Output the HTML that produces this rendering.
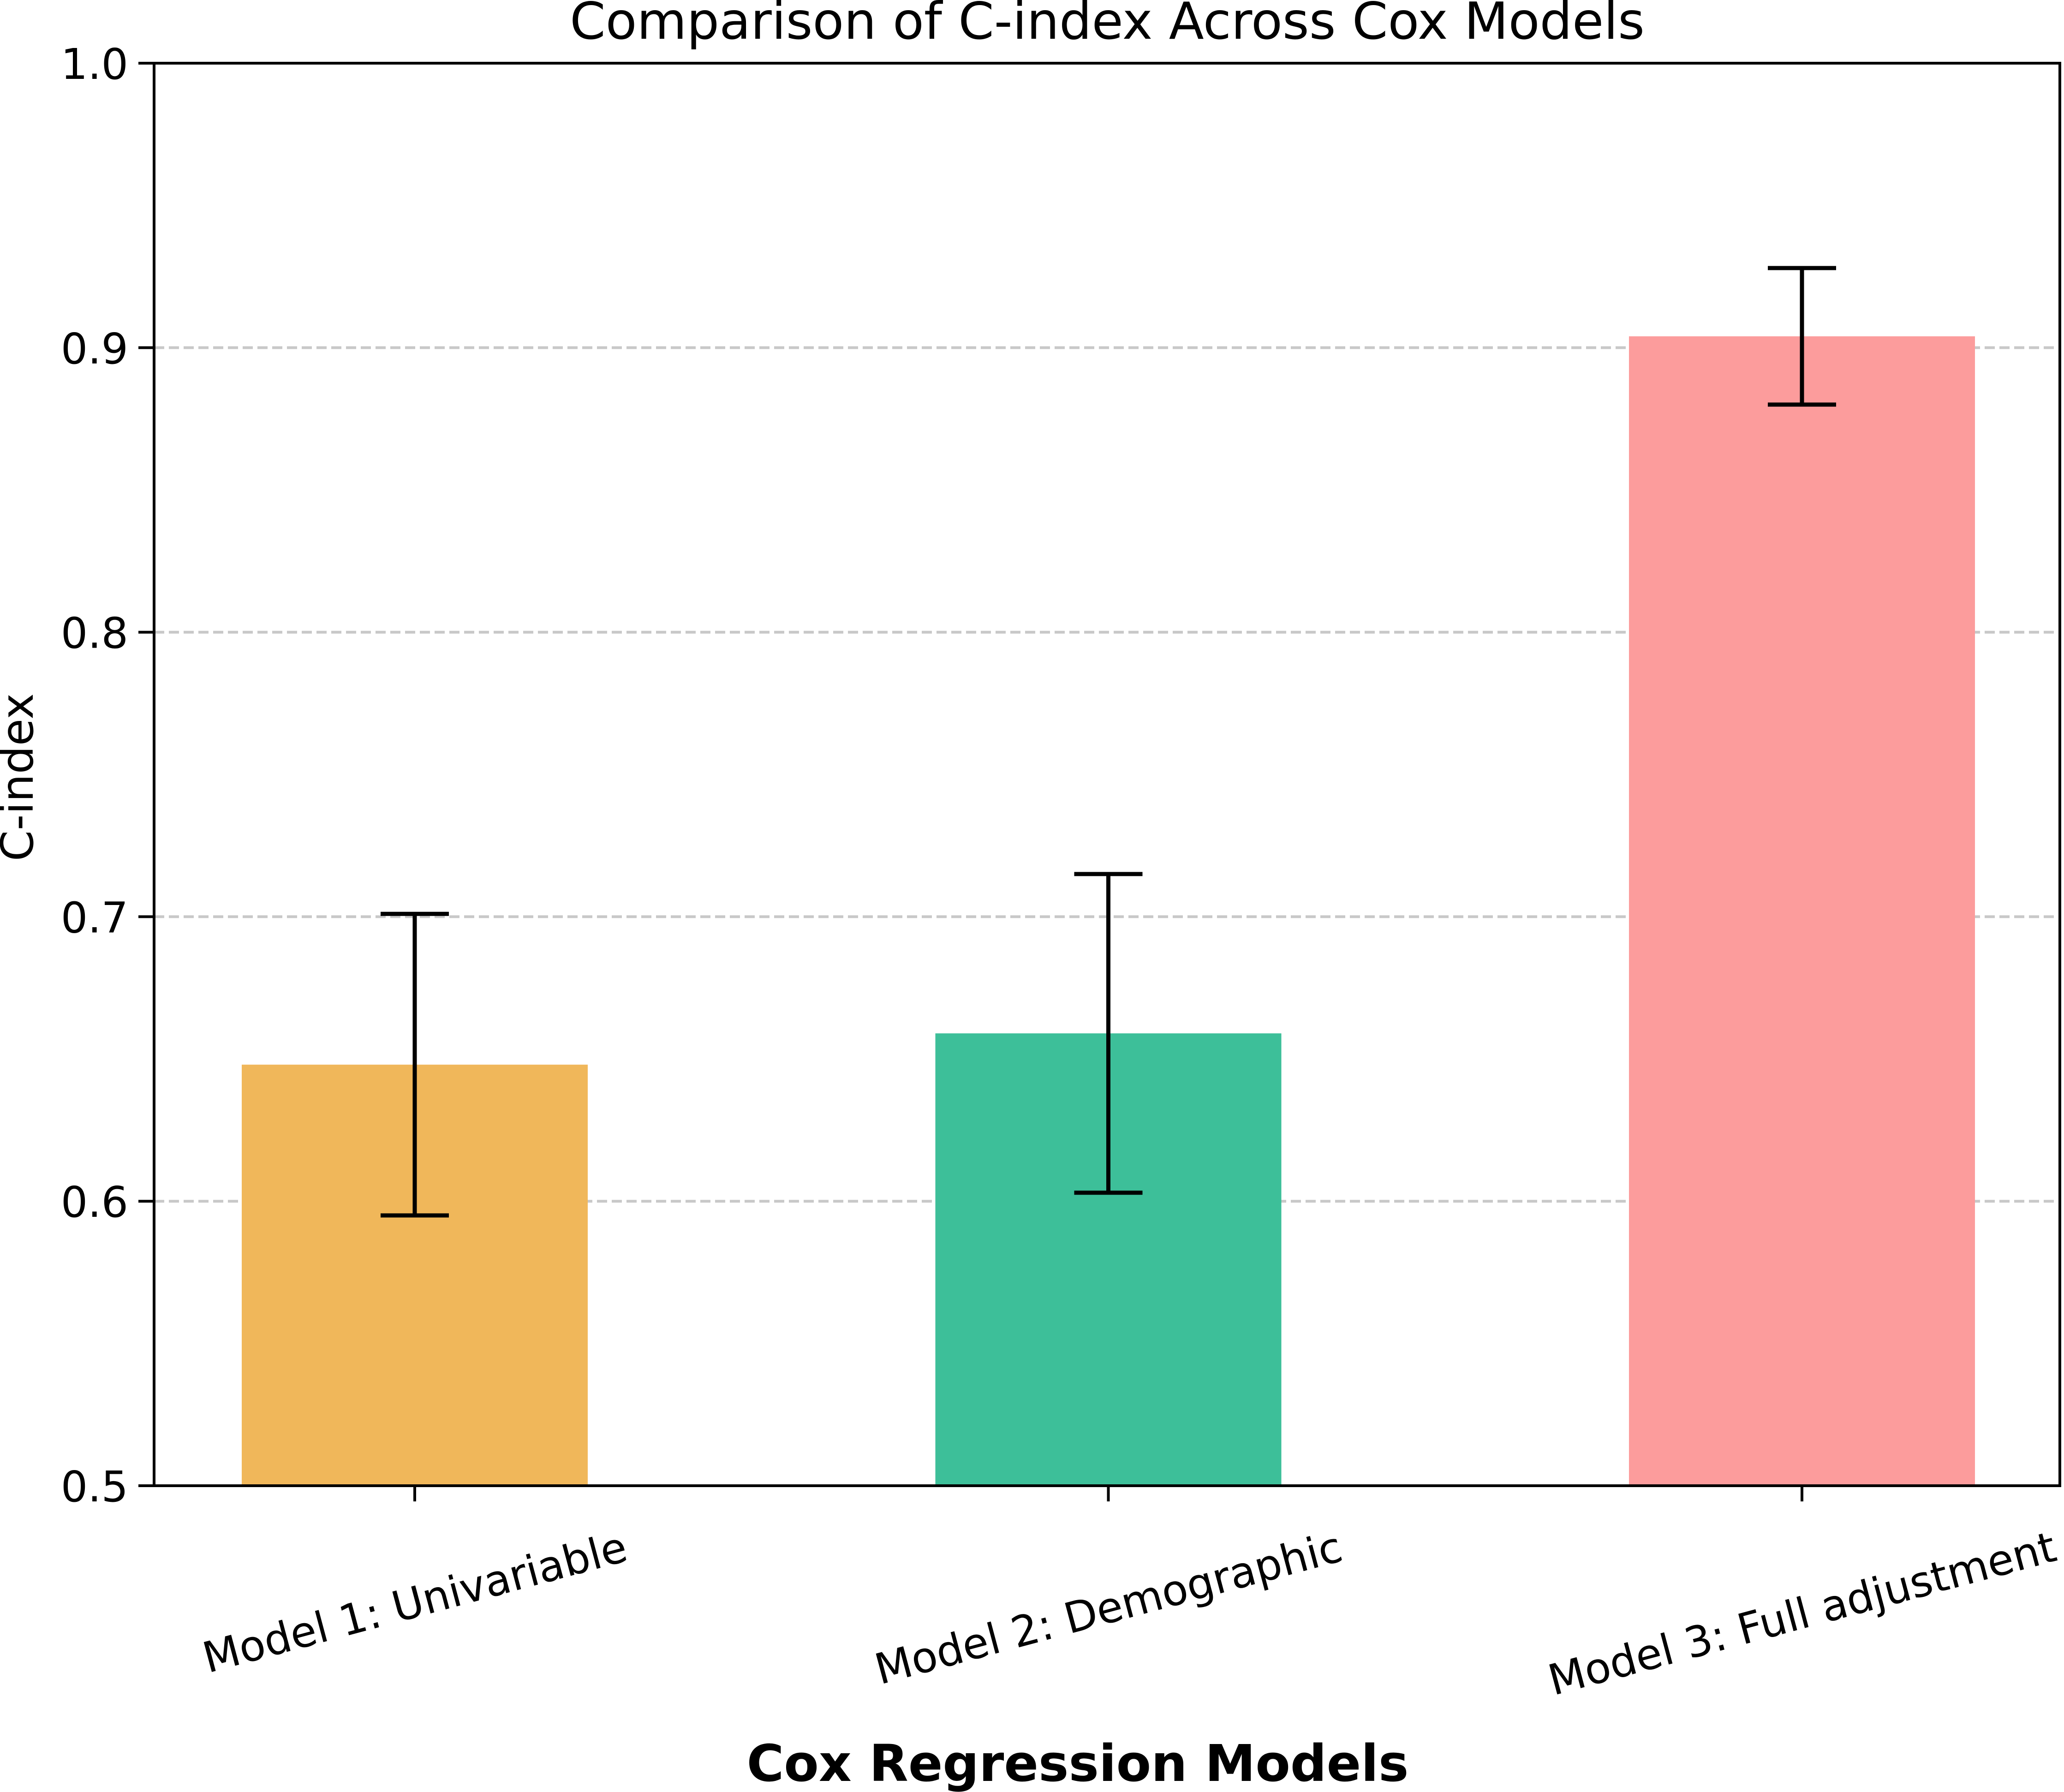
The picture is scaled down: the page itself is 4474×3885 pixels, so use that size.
<!DOCTYPE html>
<html><head><meta charset="utf-8">
<style>html,body{margin:0;padding:0;background:#fff}svg{display:block}text{font-family:"DejaVu Sans","Liberation Sans",sans-serif}</style>
</head><body>
<svg id="chart" width="4474" height="3885" viewBox="0 0 4474 3885" xmlns="http://www.w3.org/2000/svg">
<rect x="0" y="0" width="4474" height="3885" fill="#fff"/>
<text x="2400" y="84" font-size="111" text-anchor="middle">Comparison of C-index Across Cox Models</text>
<text x="0" y="0" font-size="96" text-anchor="middle" transform="translate(71,1685) rotate(-90)">C-index</text>
<text x="2336" y="3861" font-size="110" font-weight="bold" text-anchor="middle">Cox Regression Models</text>
<g id="grid"></g>
<g id="bars"></g>
<g id="errs"></g>
<g id="axes"></g>
</svg>
<script>
const categories = ["Model 1: Univariable", "Model 2: Demographic", "Model 3: Full adjustment"];
const values = [0.648, 0.659, 0.904];
const errLow = [0.595, 0.603, 0.880];
const errHigh = [0.701, 0.715, 0.928];
const colors = ["#F0B75A", "#3DBF99", "#FC9C9C"];
const yTicks = [0.5, 0.6, 0.7, 0.8, 0.9, 1.0];
const yTickLabels = ["0.5", "0.6", "0.7", "0.8", "0.9", "1.0"];

const NS = "http://www.w3.org/2000/svg";
const L = 334, R = 4465, T = 137, B = 3221;
const yMin = 0.5, yMax = 1.0;
function y(v){ return B - (v - yMin) / (yMax - yMin) * (B - T); }
const x0 = 899, step = 1503.5, barW = 750;
function x(i){ return x0 + i * step; }
function mk(tag, attrs, parent){ const e = document.createElementNS(NS, tag); for (const k in attrs) e.setAttribute(k, attrs[k]); parent.appendChild(e); return e; }

const grid = document.getElementById('grid');
const bars = document.getElementById('bars');
const errs = document.getElementById('errs');
const axes = document.getElementById('axes');

yTicks.forEach((t, i) => {
  if (t > yMin && t < yMax) {
    const g = mk('line', {x1: L, x2: R, y1: y(t), y2: y(t), stroke: '#c8c8c8', 'stroke-width': 6, 'stroke-dasharray': '22 10'}, grid);
    
    
  }
  const tk = mk('line', {x1: L - 34, x2: L, y1: y(t), y2: y(t), stroke: '#000', 'stroke-width': 6}, axes);
  
  
  const lb = mk('text', {x: L - 56, y: y(t) + 34, 'font-size': 92, 'text-anchor': 'end'}, axes);
  lb.textContent = yTickLabels[i];
  
  
});

categories.forEach((c, i) => {
  const r = mk('rect', {x: x(i) - barW / 2, y: y(values[i]), width: barW, height: B - y(values[i]), fill: colors[i]}, bars);
  
  
  const v = mk('line', {x1: x(i), x2: x(i), y1: y(errLow[i]), y2: y(errHigh[i]), stroke: '#000', 'stroke-width': 9}, errs);
  
  
  [errLow[i], errHigh[i]].forEach(e => {
    const cp = mk('line', {x1: x(i) - 74, x2: x(i) + 74, y1: y(e), y2: y(e), stroke: '#000', 'stroke-width': 9}, errs);
    
    
  });
  const tk = mk('line', {x1: x(i), x2: x(i), y1: B, y2: B + 34, stroke: '#000', 'stroke-width': 6}, axes);
  
  
  const lb = mk('text', {x: 0, y: 0, 'font-size': 92, 'text-anchor': 'middle'}, axes);
  lb.textContent = c;
  
  
  const len = lb.getComputedTextLength();
  const s = Math.sin(15 * Math.PI / 180), co = Math.cos(15 * Math.PI / 180);
  const cy = 3302 + (len * s + 100 * co) / 2;
  lb.setAttribute('transform', 'translate(' + x(i) + ',' + cy + ') rotate(-15) translate(0,33)');
});

const fr = mk('rect', {x: L, y: T, width: R - L, height: B - T, fill: 'none', stroke: '#000', 'stroke-width': 6}, axes);


</script>
</body></html>
